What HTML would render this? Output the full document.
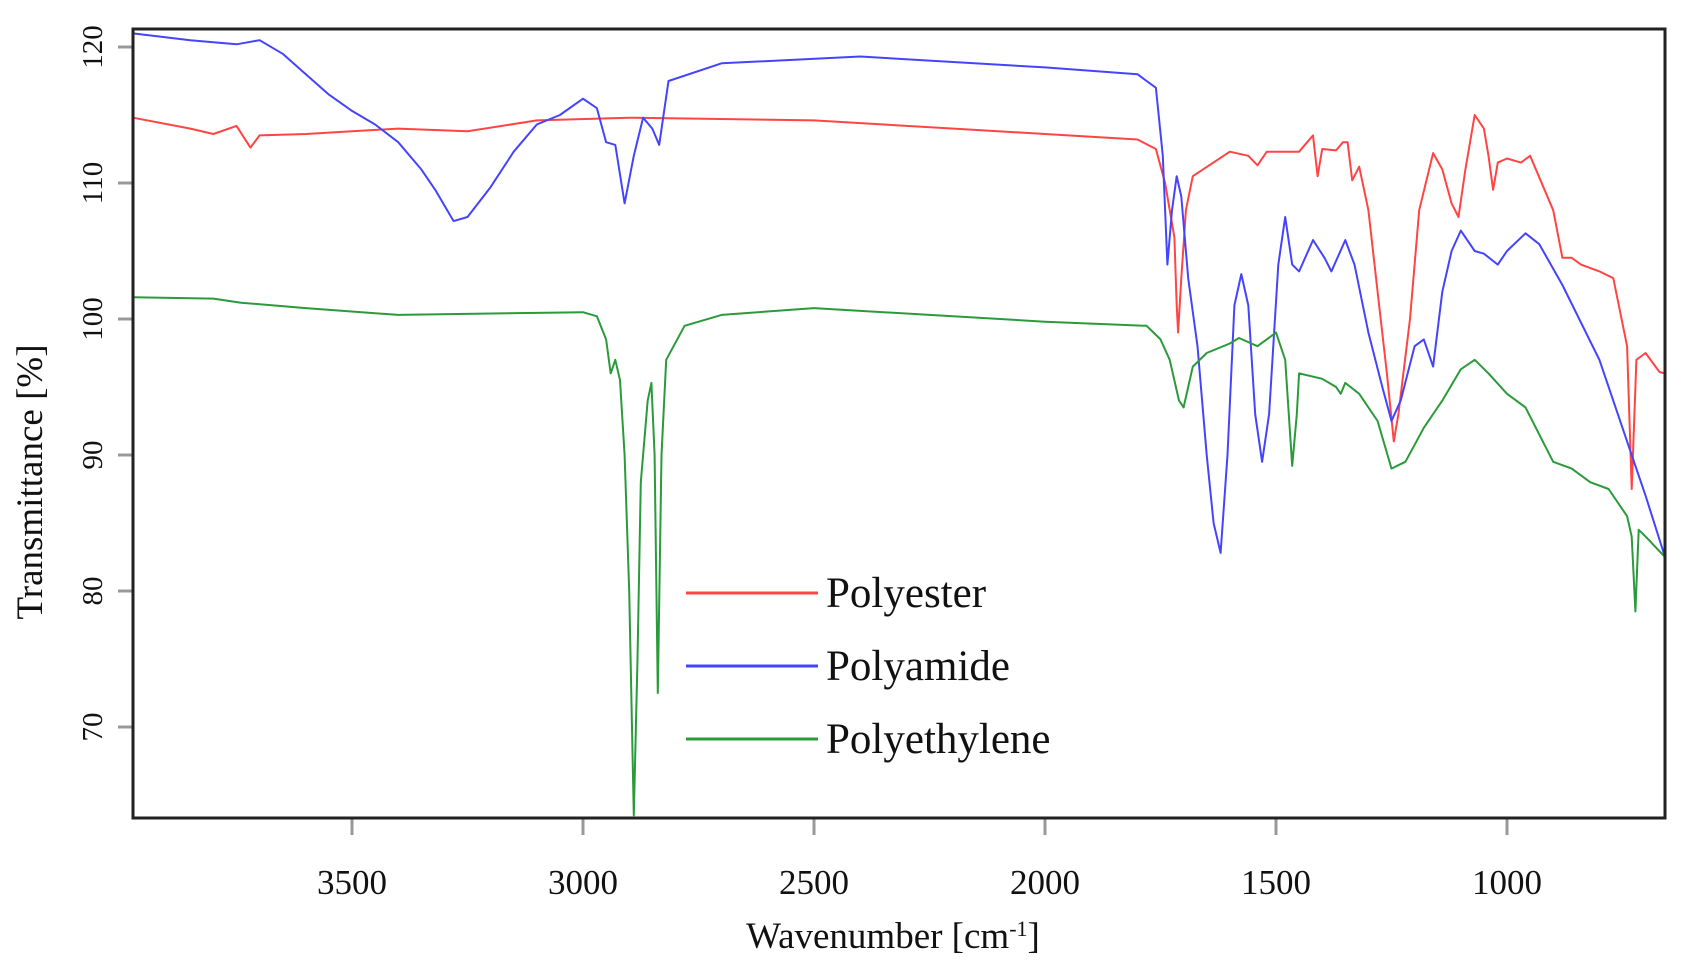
<!DOCTYPE html>
<html><head><meta charset="utf-8"><style>
html,body{margin:0;padding:0;background:#fff;width:1689px;height:966px;overflow:hidden}
svg{display:block}
text{font-family:"Liberation Serif",serif;fill:#111}
</style></head><body>
<svg id="s" width="1689" height="966" xmlns="http://www.w3.org/2000/svg">
<g stroke="#999" stroke-width="3">
<line x1="118" y1="47" x2="133" y2="47"/><line x1="118" y1="183" x2="133" y2="183"/>
<line x1="118" y1="319" x2="133" y2="319"/><line x1="118" y1="455" x2="133" y2="455"/>
<line x1="118" y1="591" x2="133" y2="591"/><line x1="118" y1="727" x2="133" y2="727"/>
</g>
<g id="xt" stroke="#999" stroke-width="3"></g>
<g font-size="29" text-anchor="middle">
<text transform="translate(102,47) rotate(-90)">120</text>
<text transform="translate(102,183) rotate(-90)">110</text>
<text transform="translate(102,319) rotate(-90)">100</text>
<text transform="translate(102,455) rotate(-90)">90</text>
<text transform="translate(102,591) rotate(-90)">80</text>
<text transform="translate(102,727) rotate(-90)">70</text>
</g>
<g font-size="35" text-anchor="middle">
<text x="352" y="894">3500</text><text x="583" y="894">3000</text><text x="814" y="894">2500</text>
<text x="1045" y="894">2000</text><text x="1276" y="894">1500</text><text x="1507" y="894">1000</text>
<text transform="translate(42,482) rotate(-90)" font-size="37">Transmittance [%]</text>
<text x="893" y="948" font-size="37">Wavenumber [cm<tspan font-size="22" dy="-12">-1</tspan><tspan dy="12">]</tspan></text>
</g>
<g id="series" fill="none" stroke-width="2"></g>
<rect x="133" y="29" width="1532" height="789" fill="none" stroke="#222" stroke-width="3"/>
<g stroke-width="3">
<line x1="686" y1="593" x2="818" y2="593" stroke="#f44"/>
<line x1="686" y1="666" x2="818" y2="666" stroke="#44f"/>
<line x1="686" y1="739" x2="818" y2="739" stroke="#2a9a3a"/>
</g>
<g font-size="43"><text x="826" y="607">Polyester</text><text x="826" y="680">Polyamide</text><text x="826" y="753">Polyethylene</text></g>
</svg>
<script>
function X(w){return 1507+(1000-w)*0.462}
function Y(t){return 47+(120-t)*13.6}
var xt=document.getElementById('xt');
[3500,3000,2500,2000,1500,1000].forEach(function(w){var l=document.createElementNS('http://www.w3.org/2000/svg','line');l.setAttribute('x1',X(w));l.setAttribute('x2',X(w));l.setAttribute('y1',818);l.setAttribute('y2',835);xt.appendChild(l);});
var R=[3974,114.8,3850,114,3800,113.6,3750,114.2,3720,112.6,3700,113.5,3600,113.6,3400,114,3250,113.8,3100,114.6,2900,114.8,2500,114.6,2000,113.6,1800,113.2,1760,112.5,1740,110,1720,106,1715,101,1712,99,1705,103,1695,108,1680,110.5,1600,112.3,1560,112,1540,111.3,1520,112.3,1450,112.3,1420,113.5,1410,110.5,1400,112.5,1370,112.4,1355,113,1345,113,1335,110.2,1320,111.2,1300,108,1280,102,1260,96,1245,91,1235,93,1210,100,1190,108,1160,112.2,1140,111,1120,108.5,1105,107.5,1090,111,1070,115,1050,114,1040,112,1030,109.5,1020,111.5,1000,111.8,970,111.5,950,112,900,108,880,104.5,860,104.5,840,104,800,103.5,770,103,740,98,730,87.5,720,97,700,97.5,670,96.1,658,96];
var B=[3974,121,3850,120.5,3750,120.2,3700,120.5,3650,119.5,3600,118,3550,116.5,3500,115.3,3450,114.3,3400,113,3350,111,3320,109.5,3280,107.2,3250,107.5,3200,109.7,3150,112.3,3100,114.3,3050,115,3000,116.2,2970,115.5,2950,113,2930,112.8,2910,108.5,2890,112,2870,114.8,2850,114,2835,112.8,2815,117.5,2700,118.8,2400,119.3,2000,118.5,1800,118,1760,117,1745,112,1735,104,1725,108,1715,110.5,1705,109,1690,103,1670,98,1650,90,1635,85,1620,82.8,1605,90,1590,101,1575,103.3,1560,101,1545,93,1530,89.5,1515,93,1495,104,1480,107.5,1465,104,1450,103.5,1420,105.8,1395,104.5,1380,103.5,1350,105.8,1330,104,1300,99,1270,95,1250,92.5,1230,94,1200,98,1180,98.5,1160,96.5,1140,102,1120,105,1100,106.5,1070,105,1050,104.8,1020,104,1000,105,960,106.3,930,105.5,880,102.5,800,97,740,91,700,87,658,82.5];
var G=[3974,101.6,3800,101.5,3740,101.2,3600,100.8,3400,100.3,3000,100.5,2970,100.2,2950,98.5,2940,96,2930,97,2920,95.5,2910,90,2900,80,2890,63.5,2882,75,2875,88,2860,94,2852,95.3,2845,90,2838,72.5,2830,90,2820,97,2780,99.5,2700,100.3,2500,100.8,2000,99.8,1780,99.5,1750,98.5,1730,97,1710,94,1700,93.5,1680,96.5,1650,97.5,1600,98.2,1580,98.6,1540,98,1500,99,1480,97,1465,89.2,1455,93,1450,96,1400,95.6,1370,95,1360,94.5,1350,95.3,1320,94.5,1280,92.5,1250,89,1220,89.5,1180,92,1140,94,1100,96.3,1070,97,1040,96,1000,94.5,960,93.5,930,91.5,900,89.5,860,89,820,88,780,87.5,740,85.5,730,84,722,78.5,715,84.5,700,84,658,82.5];
var g=document.getElementById('series');
[[R,'#f44'],[B,'#44f'],[G,'#2a9a3a']].forEach(function(s){var a=s[0],d='';for(var i=0;i<a.length;i+=2){d+=(i?'L':'M')+X(a[i]).toFixed(1)+' '+Y(a[i+1]).toFixed(1);}
var p=document.createElementNS('http://www.w3.org/2000/svg','path');p.setAttribute('d',d);p.setAttribute('stroke',s[1]);p.setAttribute('stroke-linejoin','round');g.appendChild(p);});
</script>
</body></html>
